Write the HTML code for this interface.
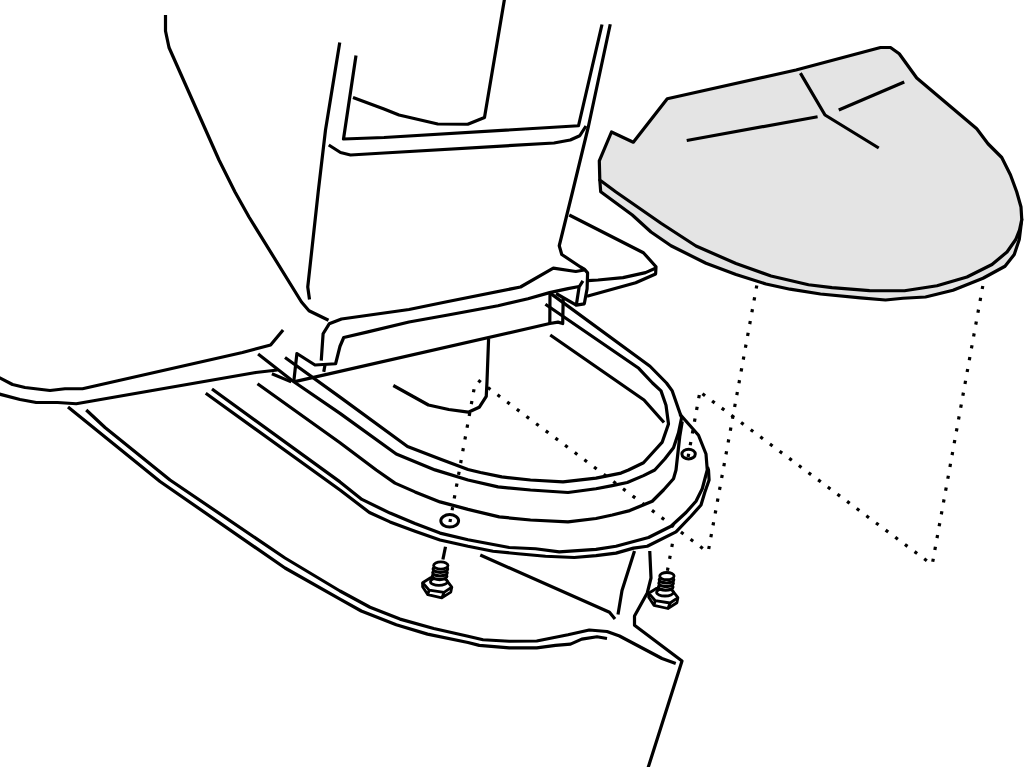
<!DOCTYPE html>
<html><head><meta charset="utf-8"><title>Diagram</title>
<style>html,body{margin:0;padding:0;background:#fff;}svg{display:block;}</style></head><body>
<svg width="1024" height="767" viewBox="0 0 1024 767">
<rect width="1024" height="767" fill="#fff"/>
<g stroke="#000" stroke-linejoin="round" stroke-linecap="butt">
<path d="M165.5,15 L165.5,31 L169,47.5 L219,160 L235,192 L249,217 L301.5,302 L309,310.75 L328.5,320.25" stroke-width="3.2" fill="none" />
<path d="M339.75,42.5 L325.5,130 L318.2,192 L307.75,287 L309.5,299.5" stroke-width="3.2" fill="none" />
<path d="M356,55.5 L343.5,139 L384,137.5 L578.5,125.75 L602,24.5" stroke-width="3.2" fill="none" />
<path d="M353,97.5 L384,109 L399,115 L437.75,124 L467.75,124.25 L484.5,117.5 L504.5,-1" stroke-width="3.2" fill="none" />
<path d="M328.75,145 L340.5,152.5 L350.5,155 L384,153 L554,143 L570.25,140 L579.75,135.75 L586,126" stroke-width="3.2" fill="none" />
<path d="M610.25,24.25 L588.5,126 L572.5,192 L559.25,245.75 L561.75,254.5 L580.5,267 L584.3,269.1 L587.6,272.9 L587.1,288.8 L584.3,303.8 L576.3,305.2 L579.1,287 L582.9,280.9" stroke-width="3.2" fill="none" />
<path d="M599.8,180 L600.7,191.7 L632.3,215 L651,232 L671,245.75 L706,263.25 L736,274.5 L766,284 L790,289.2 L820.5,294 L860.5,297.9 L885.5,300 L903,298.25 L925.5,297 L953,290.25 L983,278.25 L1005,266.25 L1014.25,254.5 L1019.25,239.5 L1021.75,219.5 L1000,200 L700,150 Z" stroke-width="3.2" fill="#e4e4e4" />
<path d="M611.5,132 L633.3,142.2 L667.25,98.75 L796,70 L880.5,47.5 L890.5,47.5 L899.25,53.75 L916.75,78 L976.75,128.75 L988,143.75 L1001.75,157.5 L1010.5,175 L1016.75,192 L1021,207 L1021.75,219.5 L1019.5,230 L1015.75,239.5 L1007,252 L992,264.5 L967,277 L937,285.75 L904.5,290.75 L869.5,290.6 L832,287.6 L808.5,284.75 L771,276 L736,263.5 L696,246 L661,223.25 L616,192 L599.8,180 L599.3,160.8 Z" stroke-width="3.2" fill="#e4e4e4" />
<path d="M686.75,140.5 L817.6,116.75" stroke-width="3.2" fill="none" />
<path d="M800.4,73.1 L825,115 L878.75,148" stroke-width="3.2" fill="none" />
<path d="M838.75,110 L904.25,82" stroke-width="3.2" fill="none" />
<path d="M569.25,215 L643.4,252.7 L656,266.8 L655.6,274 L635.7,282.7 L587,296.2" stroke-width="3.2" fill="none" />
<path d="M656,268 L645.5,272.6 L623,277.6 L598,280 L588,280.6" stroke-width="3.2" fill="none" />
<path d="M321.25,360.6 L323.1,333.75 L329.2,323.8 L341.5,319 L409,309.5 L448,301.5 L520.5,287 L553.3,268.2 L575.8,271.5 L584.3,270" stroke-width="3.2" fill="none" />
<path d="M293.75,381.9 L296.9,353.5 L315,365 L335.6,363.75 L340,346.25 L343.75,337.5 L367.9,331.9 L409,322 L448,315 L498,305.75 L528,298.7 L549.6,292.6 L568,288.6 L579.1,286.5" stroke-width="3.2" fill="none" />
<path d="M293.75,381.9 L549.8,323.5" stroke-width="3.2" fill="none" />
<path d="M325,365 L323.75,371.9" stroke-width="3.2" fill="none" />
<path d="M550,293.5 L549.8,323.5 L558,322.1 L562.7,323.5 L563.2,298.2" stroke-width="3.2" fill="none" />
<path d="M-1,377.5 L12.5,384.5 L25,387.5 L50,390.5 L65,388.75 L82.5,388.75 L242.5,352.5 L270.6,345 L283.1,330" stroke-width="3.2" fill="none" />
<path d="M-1,394 L20,399.5 L36.25,402.5 L57.5,402.5 L76.25,403.75 L255.75,372.5 L277.5,370" stroke-width="3.2" fill="none" />
<path d="M271.9,373.75 L291.25,381.9" stroke-width="3.2" fill="none" />
<path d="M258.1,354 L292,380.5 L340,413.4 L396.25,454 L435,469.9 L468,480 L498,486.9 L530.5,490 L568,492.5 L596,488.75 L612.25,485.6 L627.25,482.5 L643.5,475.6 L654.75,470 L664.75,459 L673.5,447.75 L678.5,432.75 L681.6,417.75 L678.5,409 L672.25,390.9 L666.5,383 L650,366.25 L549.5,292.6" stroke-width="3.2" fill="none" />
<path d="M285,357.5 L340,397.1 L407.5,446.5 L440,459 L468,469.5 L480.5,472.5 L501.75,476.9 L530.5,480 L563,481.9 L596,478.1 L608.5,475.6 L621,473.1 L628.5,470 L643.5,462.75 L656,449 L662.25,442.1 L668.5,424 L666,405.25 L661,390.9 L652.5,383 L638.75,368.3 L545.4,304.3" stroke-width="3.2" fill="none" />
<path d="M257.5,383.75 L340,442.75 L376.25,470 L395,483.1 L415,491.9 L440,501.9 L468,509.4 L499.25,516.9 L530.5,520 L568,521.9 L596,518.5 L612.25,515 L629.75,510.6 L652.25,501.25 L663.5,490 L673.5,478.75 L676,470 L679.75,436.5 L682.25,421.5" stroke-width="3.2" fill="none" />
<path d="M212,389 L340,481.9 L361.9,499.4 L390,513.1 L415,523.5 L440,533.1 L468,539.7 L509.25,547.5 L535.5,548.75 L559.25,551.9 L596,549.4 L616,546.25 L648.5,537.5 L671,526.25 L686,512.5 L696,501.25 L702.25,488.75 L707.25,470 L706,454 L698.5,435.25 L679.75,414" stroke-width="3.2" fill="none" />
<path d="M205.75,393.25 L340,490 L369.4,512.5 L390,521.9 L415,531.25 L440,540 L468,546.25 L493,551.25 L518,553.75 L545.5,556.25 L574.25,557.5 L596,555.6 L616,553.1 L633.5,548.1 L647.25,546.25 L676,531.9 L691,516.25 L701,505 L704.75,492.5 L709.1,480 L708.5,470 L707.5,467" stroke-width="3.2" fill="none" />
<path d="M550.25,335 L644,400 L664,422.5" stroke-width="3.2" fill="none" />
<path d="M556,293.5 L576.3,305.2" stroke-width="3.2" fill="none" />
<path d="M393.3,385.5 L428.4,405 L448.75,409.5 L468.3,412.2 L479.2,407.3 L486.25,396.4 L487,381.6 L488.6,338.6" stroke-width="3.2" fill="none" />
<path d="M68,407 L160,481.5 L285,568 L340,599.1 L361.25,611 L396.25,624.75 L427.5,634.1 L468,642.5 L479.25,645.4 L509.25,647.9 L536.75,647.9 L555.5,645.4 L570.5,644.1 L581.75,639.1 L597,636.75 L607,638.5" stroke-width="3.2" fill="none" />
<path d="M86.25,410 L105,427.5 L170,480 L285,558 L340,591 L370,607.25 L400,619.1 L433.75,628.5 L468,636.3 L483,639.75 L509.25,641.25 L536.75,641 L568,634.75 L589.25,630 L607,631.5 L619.5,636 L662,658.5 L675.75,663.5" stroke-width="3.2" fill="none" />
<path d="M480.25,555 L609.5,612.25 L615,619" stroke-width="3.2" fill="none" />
<path d="M634.5,551 L622,590.5 L618,614.5" stroke-width="3.2" fill="none" />
<path d="M649.75,551 L651,578 L647.25,593 L634.5,616 L634.5,625.25 L682,661 L648,768" stroke-width="3.2" fill="none" />
<path d="M445.5,546.8 L442.9,559.5" stroke-width="3.2" fill="none" />
<ellipse cx="449.7" cy="520.8" rx="8.9" ry="6.2" stroke-width="3" fill="none"/>
<ellipse cx="688.6" cy="454.1" rx="6.7" ry="4.9" stroke-width="3" fill="none"/>
<g transform="translate(440.8,565.5)" stroke-width="2.8" fill="none">
<path d="M-18.2,17.2 L-10.2,12.2 L5.5,14.4 L11,21.6 L3.2,26.9 L-11.6,24.6 Z" fill="#fff"/>
<path d="M-18.2,17.2 L-18.2,21.2 L-13,29.2 L1,32.4 L10,26.6 L11,21.6 M-11.6,24.6 L-13,29.2 M3.2,26.9 L1,32.4"/>
<ellipse cx="-1.9" cy="16.2" rx="8.4" ry="3.7" fill="#fff"/>
<ellipse cx="-1.20" cy="10.80" rx="7.3" ry="3.3" fill="#fff" stroke-width="3.1"/>
<ellipse cx="-0.80" cy="7.20" rx="7.3" ry="3.3" fill="#fff" stroke-width="3.1"/>
<ellipse cx="-0.40" cy="3.60" rx="7.3" ry="3.3" fill="#fff" stroke-width="3.1"/>
<ellipse cx="0" cy="0" rx="7.2" ry="3.6" fill="#fff"/>
</g>
<g transform="translate(666.9,576.1)" stroke-width="2.8" fill="none">
<path d="M-18.2,17.2 L-10.2,12.2 L5.5,14.4 L11,21.6 L3.2,26.9 L-11.6,24.6 Z" fill="#fff"/>
<path d="M-18.2,17.2 L-18.2,21.2 L-13,29.2 L1,32.4 L10,26.6 L11,21.6 M-11.6,24.6 L-13,29.2 M3.2,26.9 L1,32.4"/>
<ellipse cx="-1.9" cy="16.2" rx="8.4" ry="3.7" fill="#fff"/>
<ellipse cx="-1.20" cy="10.80" rx="7.3" ry="3.3" fill="#fff" stroke-width="3.1"/>
<ellipse cx="-0.80" cy="7.20" rx="7.3" ry="3.3" fill="#fff" stroke-width="3.1"/>
<ellipse cx="-0.40" cy="3.60" rx="7.3" ry="3.3" fill="#fff" stroke-width="3.1"/>
<ellipse cx="0" cy="0" rx="7.2" ry="3.6" fill="#fff"/>
</g>
</g>
<g fill="#000">
<rect x="-1.60" y="-1.60" width="3.2" height="3.2" transform="translate(479.50,381.25) rotate(37.0)"/>
<rect x="-1.60" y="-1.60" width="3.2" height="3.2" transform="translate(473.75,390.75) rotate(100.3)"/>
<rect x="-1.60" y="-1.60" width="3.2" height="3.2" transform="translate(471.61,402.55) rotate(100.3)"/>
<rect x="-1.60" y="-1.60" width="3.2" height="3.2" transform="translate(469.48,414.34) rotate(100.3)"/>
<rect x="-1.60" y="-1.60" width="3.2" height="3.2" transform="translate(467.34,426.14) rotate(100.3)"/>
<rect x="-1.60" y="-1.60" width="3.2" height="3.2" transform="translate(465.20,437.93) rotate(100.3)"/>
<rect x="-1.60" y="-1.60" width="3.2" height="3.2" transform="translate(463.07,449.73) rotate(100.3)"/>
<rect x="-1.60" y="-1.60" width="3.2" height="3.2" transform="translate(460.93,461.52) rotate(100.3)"/>
<rect x="-1.60" y="-1.60" width="3.2" height="3.2" transform="translate(458.80,473.32) rotate(100.3)"/>
<rect x="-1.60" y="-1.60" width="3.2" height="3.2" transform="translate(456.66,485.11) rotate(100.3)"/>
<rect x="-1.60" y="-1.60" width="3.2" height="3.2" transform="translate(454.52,496.91) rotate(100.3)"/>
<rect x="-1.60" y="-1.60" width="3.2" height="3.2" transform="translate(452.39,508.70) rotate(100.3)"/>
<rect x="-1.60" y="-1.60" width="3.2" height="3.2" transform="translate(450.25,520.50) rotate(100.3)"/>
<rect x="-1.60" y="-1.60" width="3.2" height="3.2" transform="translate(489.15,388.48) rotate(36.8)"/>
<rect x="-1.60" y="-1.60" width="3.2" height="3.2" transform="translate(498.80,395.71) rotate(36.8)"/>
<rect x="-1.60" y="-1.60" width="3.2" height="3.2" transform="translate(508.46,402.93) rotate(36.8)"/>
<rect x="-1.60" y="-1.60" width="3.2" height="3.2" transform="translate(518.11,410.16) rotate(36.8)"/>
<rect x="-1.60" y="-1.60" width="3.2" height="3.2" transform="translate(527.76,417.39) rotate(36.8)"/>
<rect x="-1.60" y="-1.60" width="3.2" height="3.2" transform="translate(537.41,424.62) rotate(36.8)"/>
<rect x="-1.60" y="-1.60" width="3.2" height="3.2" transform="translate(547.07,431.85) rotate(36.8)"/>
<rect x="-1.60" y="-1.60" width="3.2" height="3.2" transform="translate(556.72,439.08) rotate(36.8)"/>
<rect x="-1.60" y="-1.60" width="3.2" height="3.2" transform="translate(566.37,446.30) rotate(36.8)"/>
<rect x="-1.60" y="-1.60" width="3.2" height="3.2" transform="translate(576.02,453.53) rotate(36.8)"/>
<rect x="-1.60" y="-1.60" width="3.2" height="3.2" transform="translate(585.67,460.76) rotate(36.8)"/>
<rect x="-1.60" y="-1.60" width="3.2" height="3.2" transform="translate(595.33,467.99) rotate(36.8)"/>
<rect x="-1.60" y="-1.60" width="3.2" height="3.2" transform="translate(604.98,475.22) rotate(36.8)"/>
<rect x="-1.60" y="-1.60" width="3.2" height="3.2" transform="translate(614.63,482.45) rotate(36.8)"/>
<rect x="-1.60" y="-1.60" width="3.2" height="3.2" transform="translate(624.28,489.67) rotate(36.8)"/>
<rect x="-1.60" y="-1.60" width="3.2" height="3.2" transform="translate(633.93,496.90) rotate(36.8)"/>
<rect x="-1.60" y="-1.60" width="3.2" height="3.2" transform="translate(643.59,504.13) rotate(36.8)"/>
<rect x="-1.60" y="-1.60" width="3.2" height="3.2" transform="translate(653.24,511.36) rotate(36.8)"/>
<rect x="-1.60" y="-1.60" width="3.2" height="3.2" transform="translate(662.89,518.59) rotate(36.8)"/>
<rect x="-1.60" y="-1.60" width="3.2" height="3.2" transform="translate(672.54,525.82) rotate(36.8)"/>
<rect x="-1.60" y="-1.60" width="3.2" height="3.2" transform="translate(682.20,533.04) rotate(36.8)"/>
<rect x="-1.60" y="-1.60" width="3.2" height="3.2" transform="translate(691.85,540.27) rotate(36.8)"/>
<rect x="-1.60" y="-1.60" width="3.2" height="3.2" transform="translate(701.50,547.50) rotate(36.8)"/>
<rect x="-1.60" y="-1.60" width="3.2" height="3.2" transform="translate(709.00,547.50) rotate(-79.7)"/>
<rect x="-1.60" y="-1.60" width="3.2" height="3.2" transform="translate(711.16,535.66) rotate(-79.7)"/>
<rect x="-1.60" y="-1.60" width="3.2" height="3.2" transform="translate(713.32,523.82) rotate(-79.7)"/>
<rect x="-1.60" y="-1.60" width="3.2" height="3.2" transform="translate(715.48,511.98) rotate(-79.7)"/>
<rect x="-1.60" y="-1.60" width="3.2" height="3.2" transform="translate(717.64,500.14) rotate(-79.7)"/>
<rect x="-1.60" y="-1.60" width="3.2" height="3.2" transform="translate(719.80,488.30) rotate(-79.7)"/>
<rect x="-1.60" y="-1.60" width="3.2" height="3.2" transform="translate(721.95,476.45) rotate(-79.7)"/>
<rect x="-1.60" y="-1.60" width="3.2" height="3.2" transform="translate(724.11,464.61) rotate(-79.7)"/>
<rect x="-1.60" y="-1.60" width="3.2" height="3.2" transform="translate(726.27,452.77) rotate(-79.7)"/>
<rect x="-1.60" y="-1.60" width="3.2" height="3.2" transform="translate(728.43,440.93) rotate(-79.7)"/>
<rect x="-1.60" y="-1.60" width="3.2" height="3.2" transform="translate(730.59,429.09) rotate(-79.7)"/>
<rect x="-1.60" y="-1.60" width="3.2" height="3.2" transform="translate(732.75,417.25) rotate(-79.7)"/>
<rect x="-1.60" y="-1.60" width="3.2" height="3.2" transform="translate(734.91,405.41) rotate(-79.7)"/>
<rect x="-1.60" y="-1.60" width="3.2" height="3.2" transform="translate(737.07,393.57) rotate(-79.7)"/>
<rect x="-1.60" y="-1.60" width="3.2" height="3.2" transform="translate(739.23,381.73) rotate(-79.7)"/>
<rect x="-1.60" y="-1.60" width="3.2" height="3.2" transform="translate(741.39,369.89) rotate(-79.7)"/>
<rect x="-1.60" y="-1.60" width="3.2" height="3.2" transform="translate(743.55,358.05) rotate(-79.7)"/>
<rect x="-1.60" y="-1.60" width="3.2" height="3.2" transform="translate(745.70,346.20) rotate(-79.7)"/>
<rect x="-1.60" y="-1.60" width="3.2" height="3.2" transform="translate(747.86,334.36) rotate(-79.7)"/>
<rect x="-1.60" y="-1.60" width="3.2" height="3.2" transform="translate(750.02,322.52) rotate(-79.7)"/>
<rect x="-1.60" y="-1.60" width="3.2" height="3.2" transform="translate(752.18,310.68) rotate(-79.7)"/>
<rect x="-1.60" y="-1.60" width="3.2" height="3.2" transform="translate(754.34,298.84) rotate(-79.7)"/>
<rect x="-1.60" y="-1.60" width="3.2" height="3.2" transform="translate(756.50,287.00) rotate(-79.7)"/>
<rect x="-1.60" y="-1.60" width="3.2" height="3.2" transform="translate(982.50,287.50) rotate(100.3)"/>
<rect x="-1.60" y="-1.60" width="3.2" height="3.2" transform="translate(980.35,299.36) rotate(100.3)"/>
<rect x="-1.60" y="-1.60" width="3.2" height="3.2" transform="translate(978.20,311.22) rotate(100.3)"/>
<rect x="-1.60" y="-1.60" width="3.2" height="3.2" transform="translate(976.04,323.08) rotate(100.3)"/>
<rect x="-1.60" y="-1.60" width="3.2" height="3.2" transform="translate(973.89,334.93) rotate(100.3)"/>
<rect x="-1.60" y="-1.60" width="3.2" height="3.2" transform="translate(971.74,346.79) rotate(100.3)"/>
<rect x="-1.60" y="-1.60" width="3.2" height="3.2" transform="translate(969.59,358.65) rotate(100.3)"/>
<rect x="-1.60" y="-1.60" width="3.2" height="3.2" transform="translate(967.43,370.51) rotate(100.3)"/>
<rect x="-1.60" y="-1.60" width="3.2" height="3.2" transform="translate(965.28,382.37) rotate(100.3)"/>
<rect x="-1.60" y="-1.60" width="3.2" height="3.2" transform="translate(963.13,394.23) rotate(100.3)"/>
<rect x="-1.60" y="-1.60" width="3.2" height="3.2" transform="translate(960.98,406.09) rotate(100.3)"/>
<rect x="-1.60" y="-1.60" width="3.2" height="3.2" transform="translate(958.83,417.95) rotate(100.3)"/>
<rect x="-1.60" y="-1.60" width="3.2" height="3.2" transform="translate(956.67,429.80) rotate(100.3)"/>
<rect x="-1.60" y="-1.60" width="3.2" height="3.2" transform="translate(954.52,441.66) rotate(100.3)"/>
<rect x="-1.60" y="-1.60" width="3.2" height="3.2" transform="translate(952.37,453.52) rotate(100.3)"/>
<rect x="-1.60" y="-1.60" width="3.2" height="3.2" transform="translate(950.22,465.38) rotate(100.3)"/>
<rect x="-1.60" y="-1.60" width="3.2" height="3.2" transform="translate(948.07,477.24) rotate(100.3)"/>
<rect x="-1.60" y="-1.60" width="3.2" height="3.2" transform="translate(945.91,489.10) rotate(100.3)"/>
<rect x="-1.60" y="-1.60" width="3.2" height="3.2" transform="translate(943.76,500.96) rotate(100.3)"/>
<rect x="-1.60" y="-1.60" width="3.2" height="3.2" transform="translate(941.61,512.82) rotate(100.3)"/>
<rect x="-1.60" y="-1.60" width="3.2" height="3.2" transform="translate(939.46,524.67) rotate(100.3)"/>
<rect x="-1.60" y="-1.60" width="3.2" height="3.2" transform="translate(937.30,536.53) rotate(100.3)"/>
<rect x="-1.60" y="-1.60" width="3.2" height="3.2" transform="translate(935.15,548.39) rotate(100.3)"/>
<rect x="-1.60" y="-1.60" width="3.2" height="3.2" transform="translate(933.00,560.25) rotate(100.3)"/>
<rect x="-1.60" y="-1.60" width="3.2" height="3.2" transform="translate(925.50,559.75) rotate(-143.3)"/>
<rect x="-1.60" y="-1.60" width="3.2" height="3.2" transform="translate(915.86,552.58) rotate(-143.3)"/>
<rect x="-1.60" y="-1.60" width="3.2" height="3.2" transform="translate(906.22,545.40) rotate(-143.3)"/>
<rect x="-1.60" y="-1.60" width="3.2" height="3.2" transform="translate(896.58,538.23) rotate(-143.3)"/>
<rect x="-1.60" y="-1.60" width="3.2" height="3.2" transform="translate(886.93,531.05) rotate(-143.3)"/>
<rect x="-1.60" y="-1.60" width="3.2" height="3.2" transform="translate(877.29,523.88) rotate(-143.3)"/>
<rect x="-1.60" y="-1.60" width="3.2" height="3.2" transform="translate(867.65,516.71) rotate(-143.3)"/>
<rect x="-1.60" y="-1.60" width="3.2" height="3.2" transform="translate(858.01,509.53) rotate(-143.3)"/>
<rect x="-1.60" y="-1.60" width="3.2" height="3.2" transform="translate(848.37,502.36) rotate(-143.3)"/>
<rect x="-1.60" y="-1.60" width="3.2" height="3.2" transform="translate(838.73,495.18) rotate(-143.3)"/>
<rect x="-1.60" y="-1.60" width="3.2" height="3.2" transform="translate(829.09,488.01) rotate(-143.3)"/>
<rect x="-1.60" y="-1.60" width="3.2" height="3.2" transform="translate(819.45,480.84) rotate(-143.3)"/>
<rect x="-1.60" y="-1.60" width="3.2" height="3.2" transform="translate(809.80,473.66) rotate(-143.3)"/>
<rect x="-1.60" y="-1.60" width="3.2" height="3.2" transform="translate(800.16,466.49) rotate(-143.3)"/>
<rect x="-1.60" y="-1.60" width="3.2" height="3.2" transform="translate(790.52,459.32) rotate(-143.3)"/>
<rect x="-1.60" y="-1.60" width="3.2" height="3.2" transform="translate(780.88,452.14) rotate(-143.3)"/>
<rect x="-1.60" y="-1.60" width="3.2" height="3.2" transform="translate(771.24,444.97) rotate(-143.3)"/>
<rect x="-1.60" y="-1.60" width="3.2" height="3.2" transform="translate(761.60,437.79) rotate(-143.3)"/>
<rect x="-1.60" y="-1.60" width="3.2" height="3.2" transform="translate(751.96,430.62) rotate(-143.3)"/>
<rect x="-1.60" y="-1.60" width="3.2" height="3.2" transform="translate(742.32,423.45) rotate(-143.3)"/>
<rect x="-1.60" y="-1.60" width="3.2" height="3.2" transform="translate(732.67,416.27) rotate(-143.3)"/>
<rect x="-1.60" y="-1.60" width="3.2" height="3.2" transform="translate(723.03,409.10) rotate(-143.3)"/>
<rect x="-1.60" y="-1.60" width="3.2" height="3.2" transform="translate(713.39,401.92) rotate(-143.3)"/>
<rect x="-1.60" y="-1.60" width="3.2" height="3.2" transform="translate(703.75,394.75) rotate(-143.3)"/>
<rect x="-1.60" y="-1.60" width="3.2" height="3.2" transform="translate(699.00,396.60) rotate(100.2)"/>
<rect x="-1.60" y="-1.60" width="3.2" height="3.2" transform="translate(696.88,408.36) rotate(100.2)"/>
<rect x="-1.60" y="-1.60" width="3.2" height="3.2" transform="translate(694.76,420.12) rotate(100.2)"/>
<rect x="-1.60" y="-1.60" width="3.2" height="3.2" transform="translate(692.64,431.88) rotate(100.2)"/>
<rect x="-1.60" y="-1.60" width="3.2" height="3.2" transform="translate(690.52,443.64) rotate(100.2)"/>
<rect x="-1.60" y="-1.60" width="3.2" height="3.2" transform="translate(688.40,455.40) rotate(100.2)"/>
<rect x="-1.60" y="-1.60" width="3.2" height="3.2" transform="translate(672.10,545.40) rotate(100.5)"/>
<rect x="-1.60" y="-1.60" width="3.2" height="3.2" transform="translate(669.90,557.30) rotate(100.5)"/>
<rect x="-1.60" y="-1.60" width="3.2" height="3.2" transform="translate(667.70,569.20) rotate(100.5)"/>
</g>
</svg></body></html>
